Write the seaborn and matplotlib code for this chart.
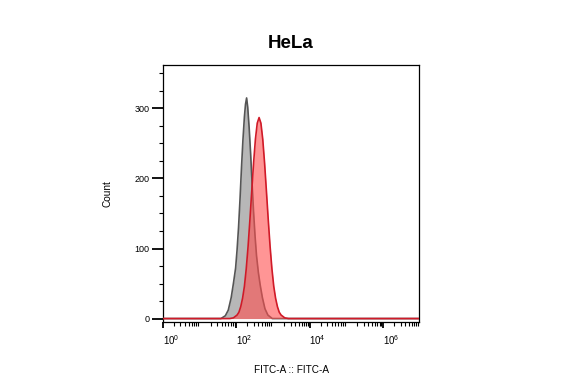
import numpy as np
import matplotlib
matplotlib.use('Agg')
import matplotlib.pyplot as plt
import matplotlib.ticker as mticker
import matplotlib.transforms as mtransforms
import seaborn as sns
import pandas as pd

# -----------------------------------------------------------------------------
# Histogram data (x in log10 FITC-A units, y = count)
# -----------------------------------------------------------------------------
control_log = [0.0, 1.58, 1.70, 1.78, 1.86, 1.92, 1.98, 2.02, 2.06, 2.10, 2.14,
               2.18, 2.22, 2.25, 2.28, 2.31, 2.35, 2.39, 2.43, 2.47, 2.51,
               2.55, 2.60, 2.65, 2.71, 2.78, 2.86, 2.98, 6.98]
control_count = [0, 0, 4, 12, 30, 50, 72, 98, 130, 170, 215,
                 255, 288, 306, 315, 302, 272, 235, 192, 152, 118,
                 90, 66, 48, 30, 14, 5, 0, 0]

stained_log = [0.0, 1.82, 1.92, 2.02, 2.07, 2.12, 2.17, 2.22, 2.27, 2.32, 2.37,
               2.42, 2.47, 2.52, 2.57, 2.62, 2.67, 2.72, 2.77, 2.82, 2.87,
               2.92, 2.97, 3.02, 3.07, 3.12, 3.17, 3.22, 3.32, 3.42, 6.98]
stained_count = [0, 0, 1, 5, 9, 17, 29, 46, 71, 103, 141,
                 182, 222, 256, 279, 287, 279, 256, 222, 182, 141,
                 103, 71, 46, 29, 17, 9, 5, 1, 0, 0]

title = 'HeLa'
x_label = 'FITC-A :: FITC-A'
y_label = 'Count'
y_ticks = [0, 100, 200, 300]
x_ticks = [1, 1e2, 1e4, 1e6]


def main():
    sns.set_theme(style='ticks')
    plt.rcParams['font.family'] = ['Liberation Sans', 'DejaVu Sans']
    plt.rcParams['text.color'] = 'black'
    plt.rcParams['axes.labelcolor'] = 'black'
    plt.rcParams['xtick.color'] = 'black'
    plt.rcParams['ytick.color'] = 'black'

    fig = plt.figure(figsize=(5.82, 3.78), dpi=100)
    ax = fig.add_axes([0.280, 0.148, 0.440, 0.680])

    ctrl = pd.DataFrame({'fitc': np.power(10.0, control_log), 'count': control_count})
    stain = pd.DataFrame({'fitc': np.power(10.0, stained_log), 'count': stained_count})

    # filled histograms: gray control first, red sample on top
    ax.fill_between(ctrl['fitc'], ctrl['count'], color='#b3b3b3', alpha=0.95,
                    linewidth=0, zorder=2)
    sns.lineplot(data=ctrl, x='fitc', y='count', ax=ax, color='#555555',
                 linewidth=1.2, sort=False, zorder=3)
    ax.fill_between(stain['fitc'], stain['count'], color='#ff4f4f', alpha=0.6,
                    linewidth=0, zorder=4)
    sns.lineplot(data=stain, x='fitc', y='count', ax=ax, color='#d01a28',
                 linewidth=1.2, sort=False, zorder=5)

    ax.set_xscale('log')
    ax.set_xlim(1, 10 ** 6.98)
    ax.set_ylim(-5, 362)

    # ticks
    ax.set_xticks(x_ticks)
    ax.xaxis.set_major_formatter(mticker.LogFormatterSciNotation())
    ax.xaxis.set_minor_locator(mticker.LogLocator(base=10, subs=np.arange(2, 10), numticks=20))
    ax.xaxis.set_minor_formatter(mticker.NullFormatter())
    ax.set_yticks(y_ticks)
    ax.yaxis.set_minor_locator(mticker.MultipleLocator(25))

    ax.tick_params(axis='y', which='major', direction='out', length=8,
                   width=1.3, labelsize=6.5, pad=1.5)
    ax.tick_params(axis='x', which='major', direction='out', length=4,
                   width=1.3, labelsize=7, pad=4)
    ax.tick_params(axis='both', which='minor', direction='out', length=3,
                   width=0.8)
    # x tick labels sit slightly right of their ticks
    offset = mtransforms.ScaledTranslation(0.08, 0, fig.dpi_scale_trans)
    for lbl in ax.get_xticklabels():
        lbl.set_transform(lbl.get_transform() + offset)

    for spine in ax.spines.values():
        spine.set_visible(True)
        spine.set_color('black')
        spine.set_linewidth(0.9)

    ax.set_xlabel(x_label, fontsize=7.2, labelpad=13)
    ax.set_ylabel(y_label, fontsize=7.2, labelpad=16)
    ax.set_title(title, fontsize=13.5, fontweight='bold', pad=12)

    fig.savefig('out.png', dpi=100, facecolor='white')


if __name__ == '__main__':
    main()
